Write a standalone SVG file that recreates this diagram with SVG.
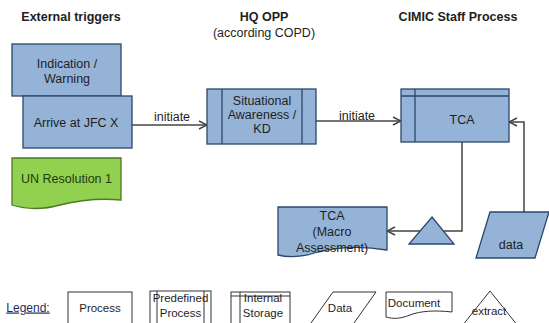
<svg xmlns="http://www.w3.org/2000/svg" width="549" height="323" viewBox="0 0 549 323">
<defs>
<style>
text{font-family:"Liberation Sans",Arial,sans-serif;font-size:12.5px;fill:#1e1e1e;text-anchor:middle}
.h{font-weight:bold}
.blue{fill:#95b3d7;stroke:#2b476b;stroke-width:1.3}
.green{fill:#92d050;stroke:#4a7a25;stroke-width:1.3}
.leg{fill:#fff;stroke:#333;stroke-width:1}
.ln{fill:none;stroke:#444;stroke-width:1.5}
.lg{font-size:11.5px}
</style>
<marker id="arr" viewBox="0 0 10 10" refX="9" refY="5" markerWidth="10" markerHeight="10" markerUnits="userSpaceOnUse" orient="auto">
<path d="M1,1 L9,5 L1,9" fill="none" stroke="#444" stroke-width="1.4"/>
</marker>
</defs>
<rect width="549" height="323" fill="#fff"/>
<g id="headers">
<text class="h" x="71" y="20.5">External triggers</text>
<text class="h" x="264" y="20.5">HQ OPP</text>
<text x="264" y="36.5">(according COPD)</text>
<text class="h" x="458" y="20.5">CIMIC Staff Process</text>
</g>
<g id="connectors">
<line class="ln" x1="132" y1="125" x2="207" y2="125" marker-end="url(#arr)"/>
<text x="172" y="121">initiate</text>
<line class="ln" x1="316" y1="121" x2="401" y2="121" marker-end="url(#arr)"/>
<text x="357" y="119.5">initiate</text>
<polyline class="ln" points="462,142 462,231 387,231" marker-end="url(#arr)"/>
<polyline class="ln" points="524,212 524,122 509,122" marker-end="url(#arr)"/>
</g>
<g id="indication">
<rect class="blue" x="12" y="44" width="109" height="52"/>
<text x="67" y="67.5">Indication /</text>
<text x="67" y="82.5">Warning</text>
</g>
<g id="arrive">
<rect class="blue" x="23" y="96" width="109" height="52"/>
<text x="76" y="127">Arrive at JFC X</text>
</g>
<g id="un">
<path class="green" d="M12,158 L121,158 L121,200 C100,198 80,200 60,205 C42,210 25,209 12,205 Z"/>
<text x="66.5" y="182.5" style="fill:#1f3a10">UN Resolution 1</text>
</g>
<g id="situational">
<rect class="blue" x="207" y="89" width="109" height="55"/>
<line class="blue" x1="222" y1="89" x2="222" y2="144"/>
<line class="blue" x1="302" y1="89" x2="302" y2="144"/>
<text x="262" y="105">Situational</text>
<text x="262" y="119">Awareness /</text>
<text x="262" y="133">KD</text>
</g>
<g id="tca">
<rect class="blue" x="401" y="89" width="108" height="53"/>
<line class="blue" x1="401" y1="96" x2="509" y2="96"/>
<line class="blue" x1="415" y1="89" x2="415" y2="142"/>
<text x="462" y="123.5">TCA</text>
</g>
<g id="tca-macro">
<path class="blue" d="M278,207 L387,207 L387,250 C362,246 338,247 318,252 C302,257 290,258 278,255 Z"/>
<text x="332" y="219.5">TCA</text>
<text x="332" y="235.5">(Macro</text>
<text x="332" y="251.5">Assessment)</text>
</g>
<g id="extract">
<polygon class="blue" points="432,217 454,244 409,244"/>
</g>
<g id="data">
<polygon class="blue" points="490,212 549,212 535,258 476,258"/>
<text x="511" y="248.5">data</text>
</g>
<g id="legend">
<text x="28" y="311.5" style="font-size:12px;fill:#1f2f5a;text-decoration:underline">Legend:</text>
<rect class="leg" x="68" y="292" width="64" height="40"/>
<text class="lg" x="100" y="311.5">Process</text>
<rect class="leg" x="150" y="291" width="61" height="40"/>
<line class="leg" x1="157" y1="291" x2="157" y2="331"/>
<line class="leg" x1="204" y1="291" x2="204" y2="331"/>
<text class="lg" x="180.5" y="302">Predefined</text>
<text class="lg" x="180.5" y="317">Process</text>
<rect class="leg" x="231" y="292" width="59" height="40"/>
<line class="leg" x1="240" y1="292" x2="240" y2="332"/>
<line class="leg" x1="231" y1="296" x2="290" y2="296"/>
<text class="lg" x="263" y="302">Internal</text>
<text class="lg" x="263" y="317">Storage</text>
<polygon class="leg" points="333,292 376,292 349,330 306,330"/>
<text class="lg" x="340" y="312">Data</text>
<path class="leg" d="M386,292 L452,292 L452,312 C435,310 420,311 410,315 C400,319 393,319 386,317 Z"/>
<text class="lg" x="414" y="307">Document</text>
<polygon class="leg" points="490,291 522,331 458,331"/>
<text class="lg" x="489" y="315">extract</text>
</g>
</svg>
